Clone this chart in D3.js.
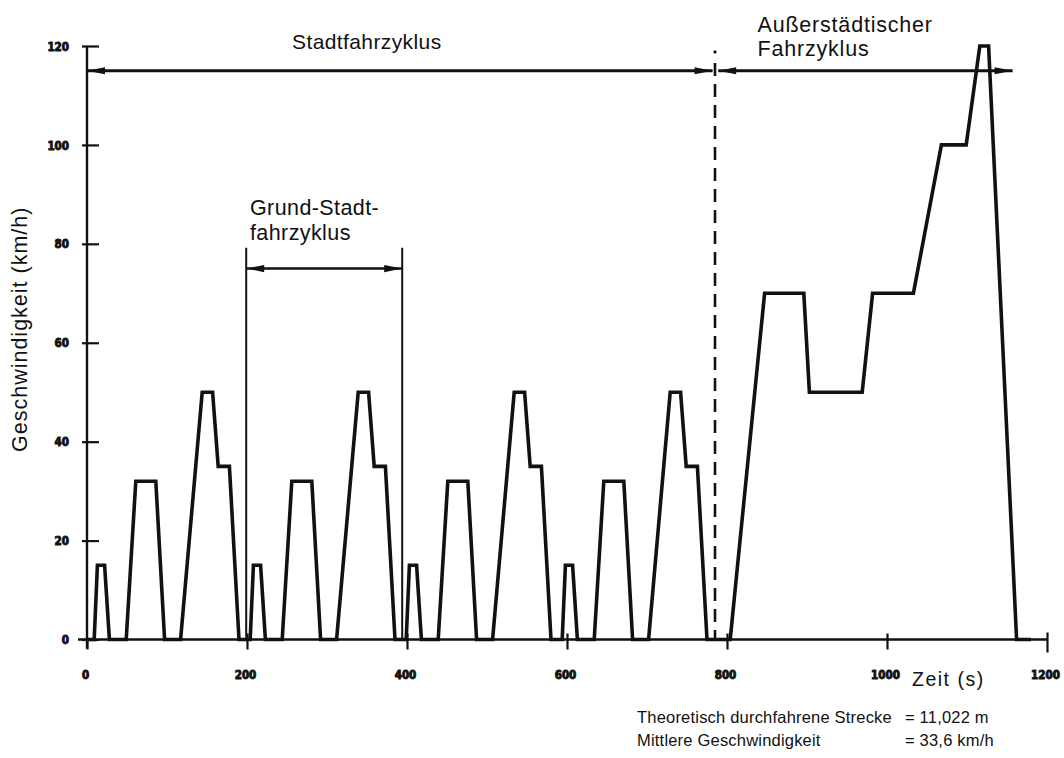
<!DOCTYPE html>
<html>
<head>
<meta charset="utf-8">
<script src="https://cdn.jsdelivr.net/npm/d3@7"></script>
<style>
  html, body { margin: 0; padding: 0; background: #fff; }
  svg { display: block; }
  .lbl { font-family: "Liberation Sans", Arial, Helvetica, sans-serif; fill: #111; }
  .tk { font-family: "DejaVu Sans Condensed", "DejaVu Sans", sans-serif; font-weight: bold; fill: #111; stroke: #111; stroke-width: 0.9px; }
</style>
</head>
<body>
<svg id="chart" width="1064" height="758"></svg>
<script>
// ---------- data ----------
const xTicks = [0, 200, 400, 600, 800, 1000, 1200];
const yTicks = [0, 20, 40, 60, 80, 100, 120];

// time (s) and speed (km/h) of the driving cycle
const timeS = [
  0, 9, 13, 22, 28, 49, 61, 86, 97, 117, 144, 157, 164, 178, 190,
  204, 208, 217, 223, 244, 256, 281, 292, 312, 339, 352, 359, 373, 385,
  399, 403, 412, 418, 439, 451, 476, 487, 507, 534, 547, 554, 568, 580,
  594, 598, 607, 613, 634, 646, 671, 682, 702, 729, 742, 749, 763, 775,
  804, 847, 896, 903, 969, 982, 1033, 1068, 1099, 1116, 1127, 1162, 1180
];
const speedKmh = [
  0, 0, 15, 15, 0, 0, 32, 32, 0, 0, 50, 50, 35, 35, 0,
  0, 15, 15, 0, 0, 32, 32, 0, 0, 50, 50, 35, 35, 0,
  0, 15, 15, 0, 0, 32, 32, 0, 0, 50, 50, 35, 35, 0,
  0, 15, 15, 0, 0, 32, 32, 0, 0, 50, 50, 35, 35, 0,
  0, 70, 70, 50, 50, 70, 70, 100, 100, 120, 120, 0, 0
];

// annotation spans (time in s, level in km/h)
const stadtSpan = [0, 782];
const ausserSpan = [789, 1157];
const spanLevel = 115;
const grundSpan = [199, 394];
const grundLevel = 75;
const grundTop = 79.2;
const splitTime = 785;
const splitTop = 118.8;

const titleStadt = "Stadtfahrzyklus";
const titleAusser = ["Außerstädtischer", "Fahrzyklus"];
const titleGrund = ["Grund-Stadt-", "fahrzyklus"];
const yTitle = "Geschwindigkeit (km/h)";
const xTitle = "Zeit (s)";
const noteLabels = ["Theoretisch durchfahrene Strecke", "Mittlere Geschwindigkeit"];
const noteValues = ["= 11,022 m", "= 33,6 km/h"];

// ---------- chart ----------
const svg = d3.select("#chart");
const x = d3.scaleLinear().domain([0, 1200]).range([87, 1047]);
const y = d3.scaleLinear().domain([0, 120]).range([639.5, 46]);

// x axis
const gx = svg.append("g").attr("transform", `translate(0,${y(0)})`)
  .call(d3.axisBottom(x).tickValues(xTicks).tickSize(10).tickSizeOuter(0).tickFormat(d3.format("d")));
gx.select(".domain").remove();
gx.selectAll(".tick line").attr("y1", d => d === 0 ? 0 : -6).attr("y2", d => d === 1200 ? 13 : 10)
  .attr("stroke", "#111").attr("stroke-width", 2.2);
gx.selectAll(".tick text").attr("class", "tk").attr("y", 39).attr("dy", 0)
  .attr("dx", -2).style("font-size", "11.5px").attr("font-family", null);
gx.append("line").attr("x1", 78).attr("x2", x(1200)).attr("y1", 0).attr("y2", 0)
  .attr("stroke", "#111").attr("stroke-width", 2.6);
gx.selectAll(".tick").filter(d => d === 1200).select("line").attr("y1", -7);

// y axis
const gy = svg.append("g").attr("transform", `translate(${x(0)},0)`)
  .call(d3.axisLeft(y).tickValues(yTicks).tickSize(5).tickSizeOuter(0).tickFormat(d3.format("d")));
gy.select(".domain").remove();
gy.selectAll(".tick line").attr("x1", 12).attr("x2", -5).attr("stroke", "#111").attr("stroke-width", 2.2);
gy.selectAll(".tick text").attr("class", "tk").attr("x", -18).attr("dy", "0.36em")
  .style("font-size", "11.5px").attr("font-family", null);
gy.append("line").attr("x1", 0).attr("x2", 0).attr("y1", y(120)).attr("y2", y(0) + 9)
  .attr("stroke", "#111").attr("stroke-width", 2.4);

// speed profile
const pts = timeS.map((t, i) => [t, speedKmh[i]]);
svg.append("path").datum(pts)
  .attr("d", d3.line().x(d => x(d[0])).y(d => y(d[1])))
  .attr("fill", "none").attr("stroke", "#111").attr("stroke-width", 3.6)
  .attr("stroke-linejoin", "miter");

// arrow helper
function head(xTip, yy, dir) {
  const len = 18, hw = 3.6;
  svg.append("path")
    .attr("d", `M${xTip},${yy} L${xTip - dir * len},${yy - hw} L${xTip - dir * len},${yy + hw} Z`)
    .attr("fill", "#111");
}
function span(t0, t1, lvl, w) {
  const yy = y(lvl);
  svg.append("line").attr("x1", x(t0)).attr("x2", x(t1)).attr("y1", yy).attr("y2", yy)
    .attr("stroke", "#111").attr("stroke-width", w);
  head(x(t0), yy, -1);
  head(x(t1), yy, 1);
}
span(stadtSpan[0], stadtSpan[1], spanLevel, 2.8);
span(ausserSpan[0], ausserSpan[1], spanLevel, 2.8);

// Grund-Stadtfahrzyklus bracket
grundSpan.forEach(t => {
  svg.append("line").attr("x1", x(t)).attr("x2", x(t)).attr("y1", y(grundTop)).attr("y2", y(0))
    .attr("stroke", "#111").attr("stroke-width", 2);
});
span(grundSpan[0], grundSpan[1], grundLevel, 2.6);

// split dashed line with a dot at its top
svg.append("circle").attr("cx", x(splitTime)).attr("cy", y(splitTop)).attr("r", 1.6).attr("fill", "#111");
svg.append("line").attr("x1", x(splitTime)).attr("x2", x(splitTime))
  .attr("y1", y(splitTop) + 11).attr("y2", y(0))
  .attr("stroke", "#111").attr("stroke-width", 2.6).attr("stroke-dasharray", "13,8");

// titles
svg.append("text").attr("class", "lbl").attr("x", 292).attr("y", 49)
  .style("font-size", "21px").style("letter-spacing", "0.4px").text(titleStadt);
titleAusser.forEach((s, i) => svg.append("text").attr("class", "lbl")
  .attr("x", 757.5).attr("y", 31.5 + i * 24).style("font-size", "21.5px").style("letter-spacing", "0.8px").text(s));
titleGrund.forEach((s, i) => svg.append("text").attr("class", "lbl")
  .attr("x", 250).attr("y", 215 + i * 25).style("font-size", "21.5px").style("letter-spacing", "0.4px").text(s));

svg.append("text").attr("class", "lbl")
  .attr("transform", `translate(27,452) rotate(-90)`)
  .style("font-size", "21.5px").style("letter-spacing", "1px").text(yTitle);

svg.append("text").attr("class", "lbl").attr("x", 912).attr("y", 686)
  .style("font-size", "19.5px").style("letter-spacing", "1.5px").text(xTitle);

// notes
noteLabels.forEach((s, i) => svg.append("text").attr("class", "lbl")
  .attr("x", 637).attr("y", 723 + i * 23).style("font-size", "16.5px").style("letter-spacing", "0.2px").text(s));
noteValues.forEach((s, i) => svg.append("text").attr("class", "lbl")
  .attr("x", 905).attr("y", 723 + i * 23)
  .style("white-space", "pre").style("font-size", "16.5px").style("letter-spacing", "0.2px")
  .text(s));
</script>
</body>
</html>
